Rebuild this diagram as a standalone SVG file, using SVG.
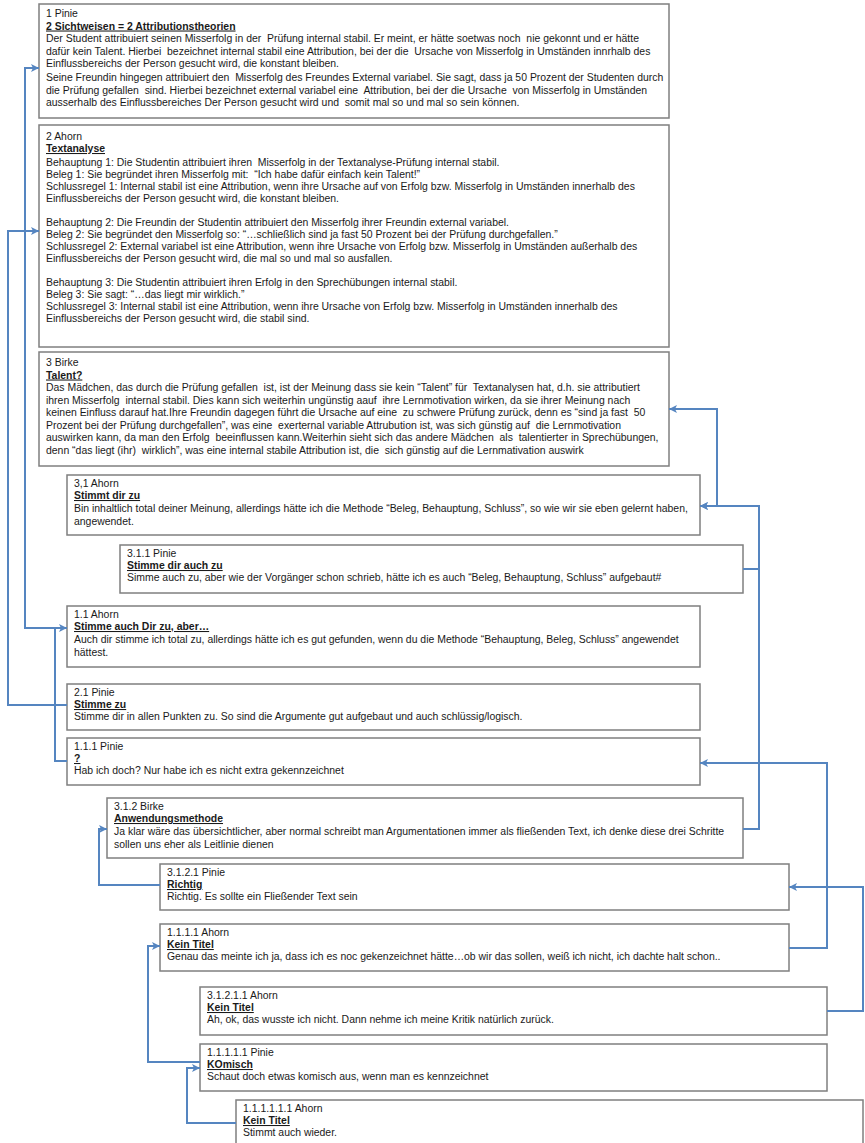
<svg xmlns="http://www.w3.org/2000/svg" width="865" height="1143" viewBox="0 0 865 1143">
<style>
text{font-family:"Liberation Sans",Arial,sans-serif;font-size:10.45px;fill:#1a1a1a;white-space:pre}
.h{font-weight:bold;text-decoration:underline}
.box{fill:#fff;stroke:#7f7f7f;stroke-width:1.5}
.c{fill:none;stroke:#5585c0;stroke-width:2}
</style>
<defs>
<marker id="ah" markerUnits="userSpaceOnUse" markerWidth="10" markerHeight="10" refX="8" refY="4" orient="auto">
<path d="M0,0 L8,4 L0,8 L2,4 z" fill="#5585c0"/>
</marker>
</defs>
<rect width="865" height="1143" fill="#fff"/>

<g id="n1">
<rect class="box" x="39" y="4" width="630" height="114"/>
<text x="46" y="17">1 Pinie</text>
<text x="46" y="29.5" class="h">2 Sichtweisen = 2 Attributionstheorien</text>
<text x="46" y="42">Der Student attribuiert seinen Misserfolg in der  Prüfung internal stabil. Er meint, er hätte soetwas noch  nie gekonnt und er hätte</text>
<text x="46" y="54.5">dafür kein Talent. Hierbei  bezeichnet internal stabil eine Attribution, bei der die  Ursache von Misserfolg in Umständen innrhalb des</text>
<text x="46" y="67">Einflussbereichs der Person gesucht wird, die konstant bleiben.</text>
<text x="46" y="81">Seine Freundin hingegen attribuiert den  Misserfolg des Freundes External variabel. Sie sagt, dass ja 50 Prozent der Studenten durch</text>
<text x="46" y="93.5">die Prüfung gefallen  sind. Hierbei bezeichnet external variabel eine  Attribution, bei der die Ursache  von Misserfolg in Umständen</text>
<text x="46" y="106">ausserhalb des Einflussbereiches Der Person gesucht wird und  somit mal so und mal so sein können.</text>
</g>

<g id="n2">
<rect class="box" x="39" y="125" width="630" height="222"/>
<text x="46" y="140">2 Ahorn</text>
<text x="46" y="152" class="h">Textanalyse</text>
<text x="46" y="166">Behauptung 1: Die Studentin attribuiert ihren  Misserfolg in der Textanalyse-Prüfung internal stabil.</text>
<text x="46" y="178">Beleg 1: Sie begründet ihren Misserfolg mit:  “Ich habe dafür einfach kein Talent!”</text>
<text x="46" y="190">Schlussregel 1: Internal stabil ist eine Attribution, wenn ihre Ursache auf von Erfolg bzw. Misserfolg in Umständen innerhalb des</text>
<text x="46" y="202">Einflussbereichs der Person gesucht wird, die konstant bleiben.</text>
<text x="46" y="226">Behauptung 2: Die Freundin der Studentin attribuiert den Misserfolg ihrer Freundin external variabel.</text>
<text x="46" y="238">Beleg 2: Sie begründet den Misserfolg so: “…schließlich sind ja fast 50 Prozent bei der Prüfung durchgefallen.”</text>
<text x="46" y="250">Schlussregel 2: External variabel ist eine Attribution, wenn ihre Ursache von Erfolg bzw. Misserfolg in Umständen außerhalb des</text>
<text x="46" y="262">Einflussbereichs der Person gesucht wird, die mal so und mal so ausfallen.</text>
<text x="46" y="286">Behauptung 3: Die Studentin attribuiert ihren Erfolg in den Sprechübungen internal stabil.</text>
<text x="46" y="298">Beleg 3: Sie sagt: “…das liegt mir wirklich.”</text>
<text x="46" y="310">Schlussregel 3: Internal stabil ist eine Attribution, wenn ihre Ursache von Erfolg bzw. Misserfolg in Umständen innerhalb des</text>
<text x="46" y="322">Einflussbereichs der Person gesucht wird, die stabil sind.</text>
</g>

<g id="n3">
<rect class="box" x="39" y="352" width="630" height="114"/>
<text x="46" y="366">3 Birke</text>
<text x="46" y="378.5" class="h">Talent?</text>
<text x="46" y="391">Das Mädchen, das durch die Prüfung gefallen  ist, ist der Meinung dass sie kein “Talent” für  Textanalysen hat, d.h. sie attributiert</text>
<text x="46" y="403.5">ihren Misserfolg  internal stabil. Dies kann sich weiterhin ungünstig aauf  ihre Lernmotivation wirken, da sie ihrer Meinung nach</text>
<text x="46" y="416">keinen Einfluss darauf hat.Ihre Freundin dagegen führt die Ursache auf eine  zu schwere Prüfung zurück, denn es “sind ja fast  50</text>
<text x="46" y="428.5">Prozent bei der Prüfung durchgefallen”, was eine  exerternal variable Attrubution ist, was sich günstig auf  die Lernmotivation</text>
<text x="46" y="441">auswirken kann, da man den Erfolg  beeinflussen kann.Weiterhin sieht sich das andere Mädchen  als  talentierter in Sprechübungen,</text>
<text x="46" y="453.5">denn “das liegt (ihr)  wirklich”, was eine internal stabile Attribution ist, die  sich günstig auf die Lernmativation auswirk</text>
</g>

<g id="n31">
<rect class="box" x="67" y="475" width="633" height="60"/>
<text x="74" y="487">3,1 Ahorn</text>
<text x="74" y="499" class="h">Stimmt dir zu</text>
<text x="74" y="512">Bin inhaltlich total deiner Meinung, allerdings hätte ich die Methode “Beleg, Behauptung, Schluss”, so wie wir sie eben gelernt haben,</text>
<text x="74" y="524.5">angewendet.</text>
</g>

<g id="n311">
<rect class="box" x="120" y="545" width="623" height="48"/>
<text x="127" y="557">3.1.1 Pinie</text>
<text x="127" y="569" class="h">Stimme dir auch zu</text>
<text x="127" y="581">Simme auch zu, aber wie der Vorgänger schon schrieb, hätte ich es auch “Beleg, Behauptung, Schluss” aufgebaut#</text>
</g>

<g id="n11">
<rect class="box" x="67" y="606" width="633" height="61"/>
<text x="74" y="618">1.1 Ahorn</text>
<text x="74" y="630" class="h">Stimme auch Dir zu, aber…</text>
<text x="74" y="643">Auch dir stimme ich total zu, allerdings hätte ich es gut gefunden, wenn du die Methode “Behauptung, Beleg, Schluss” angewendet</text>
<text x="74" y="655.5">hättest.</text>
</g>

<g id="n21">
<rect class="box" x="67" y="684" width="633" height="46"/>
<text x="74" y="696">2.1 Pinie</text>
<text x="74" y="708" class="h">Stimme zu</text>
<text x="74" y="720">Stimme dir in allen Punkten zu. So sind die Argumente gut aufgebaut und auch schlüssig/logisch.</text>
</g>

<g id="n111">
<rect class="box" x="67" y="738" width="633" height="47"/>
<text x="74" y="750">1.1.1 Pinie</text>
<text x="74" y="762" class="h">?</text>
<text x="74" y="774">Hab ich doch? Nur habe ich es nicht extra gekennzeichnet</text>
</g>

<g id="n312">
<rect class="box" x="107" y="798" width="636" height="60"/>
<text x="114" y="810">3.1.2 Birke</text>
<text x="114" y="822" class="h">Anwendungsmethode</text>
<text x="114" y="835">Ja klar wäre das übersichtlicher, aber normal schreibt man Argumentationen immer als fließenden Text, ich denke diese drei Schritte</text>
<text x="114" y="847.5">sollen uns eher als Leitlinie dienen</text>
</g>

<g id="n3121">
<rect class="box" x="160" y="864" width="629" height="46"/>
<text x="167" y="876">3.1.2.1 Pinie</text>
<text x="167" y="888" class="h">Richtig</text>
<text x="167" y="900">Richtig. Es sollte ein Fließender Text sein</text>
</g>

<g id="n1111">
<rect class="box" x="160" y="924" width="629" height="47"/>
<text x="167" y="936">1.1.1.1 Ahorn</text>
<text x="167" y="948" class="h">Kein Titel</text>
<text x="167" y="960">Genau das meinte ich ja, dass ich es noc gekenzeichnet hätte…ob wir das sollen, weiß ich nicht, ich dachte halt schon..</text>
</g>

<g id="n31211">
<rect class="box" x="200" y="987" width="627" height="48"/>
<text x="207" y="999">3.1.2.1.1 Ahorn</text>
<text x="207" y="1011" class="h">Kein Titel</text>
<text x="207" y="1023">Ah, ok, das wusste ich nicht. Dann nehme ich meine Kritik natürlich zurück.</text>
</g>

<g id="n11111">
<rect class="box" x="200" y="1044" width="627" height="47"/>
<text x="207" y="1056">1.1.1.1.1 Pinie</text>
<text x="207" y="1068" class="h">KOmisch</text>
<text x="207" y="1080">Schaut doch etwas komisch aus, wenn man es kennzeichnet</text>
</g>

<g id="n111111">
<rect class="box" x="236" y="1100" width="627" height="52"/>
<text x="243" y="1112">1.1.1.1.1.1 Ahorn</text>
<text x="243" y="1124" class="h">Kein Titel</text>
<text x="243" y="1136">Stimmt auch wieder.</text>
</g>

<g id="connectors">
<path class="c" d="M67,628 H25 V68 H39" marker-end="url(#ah)"/>
<path class="c" d="M67,705 H8 V231 H39" marker-end="url(#ah)"/>
<path class="c" d="M67,761 H55 V628 H67" marker-end="url(#ah)"/>
<path class="c" d="M700,506 H717 V409 H669" marker-end="url(#ah)"/>
<path class="c" d="M743,569 H759 V506 H700" marker-end="url(#ah)"/>
<path class="c" d="M743,829 H759 V506 H700" marker-end="url(#ah)"/>
<path class="c" d="M789,948 H827 V763 H700" marker-end="url(#ah)"/>
<path class="c" d="M160,885 H99 V829 H107" marker-end="url(#ah)"/>
<path class="c" d="M827,1011 H863 V887 H789" marker-end="url(#ah)"/>
<path class="c" d="M200,1062 H148 V946 H160" marker-end="url(#ah)"/>
<path class="c" d="M236,1123 H187 V1068 H200" marker-end="url(#ah)"/>
</g>
</svg>
